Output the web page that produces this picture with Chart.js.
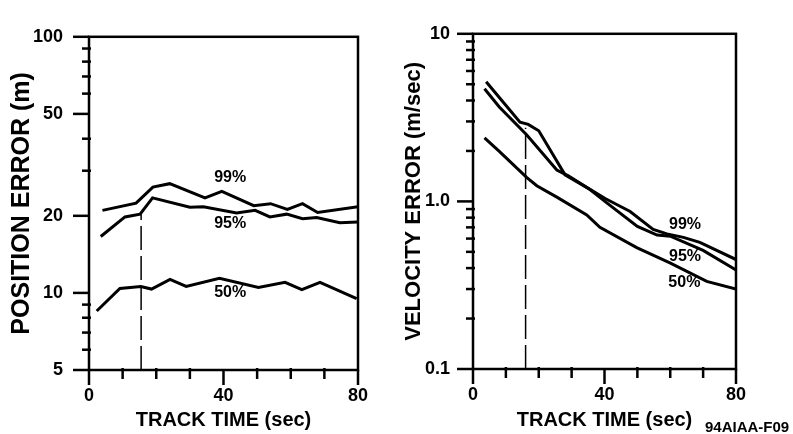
<!DOCTYPE html>
<html>
<head>
<meta charset="utf-8">
<script src="https://cdn.jsdelivr.net/npm/chart.js@4.4.1/dist/chart.umd.min.js"></script>
<style>
  html, body { margin: 0; padding: 0; background: #fff; }
  #wrap { position: relative; width: 793px; height: 434px; overflow: hidden; }
  #posChart { position: absolute; left: 0; top: 0; }
  #velChart { position: absolute; left: 396px; top: 0; }
</style>
</head>
<body>
<div id="wrap">
  <canvas id="posChart" width="396" height="434"></canvas>
  <canvas id="velChart" width="397" height="434"></canvas>
</div>
<script>
// track time ticks (sec)
var timeTicks = [0, 40, 80];
var timeMinor = [10, 20, 30, 50, 60, 70];

// position error panel (m)
var posTicks = [5, 10, 20, 50, 100];
var posMinor = [6, 7, 8, 9, 30, 40, 60, 70, 80, 90];
var posT99 = [4, 14, 19, 24, 34.5, 39.5, 49, 54, 59, 63.5, 68, 80];
var posE99 = [21.0, 22.4, 25.9, 26.7, 23.5, 24.9, 21.9, 22.3, 21.2, 22.3, 20.6, 21.7];
var posT95 = [3.5, 10.7, 15.2, 18.9, 30, 34, 43.9, 49.4, 53.8, 58.8, 63.5, 67.7, 74.6, 80];
var posE95 = [16.6, 19.8, 20.3, 23.5, 21.6, 21.7, 20.5, 21.0, 19.8, 20.3, 19.5, 19.7, 18.8, 18.9];
var posT50 = [2.3, 9.2, 15.4, 18.6, 24.1, 28.9, 38.8, 50.4, 58.3, 63.3, 68.7, 79.6];
var posE50 = [8.5, 10.4, 10.6, 10.35, 11.3, 10.6, 11.4, 10.5, 11.0, 10.3, 11.0, 9.5];
var posMarkT = [15.5, 15.5];
var posMarkE = [5, 20.3];
var posLabels = ['99%', '95%', '50%'];
var posLabelT = [42, 42, 42];
var posLabelE = [28.1, 18.6, 10.0];

// velocity error panel (m/sec)
var velTicks = [0.1, 1, 10];
var velTickText = ['0.1', '1.0', '10'];
var velMinor = [0.2, 0.3, 0.4, 0.5, 0.6, 0.7, 0.8, 0.9, 2, 3, 4, 5, 6, 7, 8, 9];
var velT99 = [4, 8, 14.3, 16.8, 20, 28, 35.6, 40.2, 47.8, 54.8, 59, 64, 69, 80];
var velE99 = [5.17, 4.17, 2.97, 2.88, 2.64, 1.44, 1.18, 1.04, 0.87, 0.68, 0.64, 0.61, 0.57, 0.45];
var velT95 = [3.5, 8, 16.3, 25.5, 29, 35, 41, 50, 56, 60, 70, 80];
var velE95 = [4.7, 3.66, 2.5, 1.54, 1.42, 1.2, 0.97, 0.71, 0.63, 0.62, 0.51, 0.39];
var velT50 = [3.5, 8, 16.3, 19.4, 25.5, 34.6, 38.6, 49.8, 59.9, 71.1, 80];
var velE50 = [2.39, 1.99, 1.39, 1.24, 1.06, 0.83, 0.70, 0.53, 0.43, 0.333, 0.30];
var velMarkT = [16, 16];
var velMarkE = [0.1, 2.75];
var velLabels = ['99%', '95%', '50%'];
var velLabelT = [64.5, 64.5, 64.3];
var velLabelE = [0.725, 0.47, 0.33];

Chart.defaults.font.family = '"Liberation Sans", Arial, sans-serif';
Chart.defaults.font.weight = 'bold';
Chart.defaults.color = '#000';

function pts(xs, ys) {
    return xs.map(function (x, i) { return { x: x, y: ys[i] }; });
}

function curve(xs, ys) {
    return { data: pts(xs, ys), borderColor: '#000', borderWidth: 3, pointRadius: 0, showLine: true, tension: 0 };
}

// frame, hand-drawn style tick marks, curve labels
var frameTicks = {
    id: 'frameTicks',
    afterDatasetsDraw: function (chart, args, o) {
        var ctx = chart.ctx, a = chart.chartArea, x = chart.scales.x, y = chart.scales.y;
        function seg(x1, y1, x2, y2) { ctx.beginPath(); ctx.moveTo(x1, y1); ctx.lineTo(x2, y2); ctx.stroke(); }
        ctx.save();
        ctx.strokeStyle = '#000';
        ctx.lineWidth = 2.5;
        ctx.strokeRect(a.left, a.top, a.right - a.left, a.bottom - a.top);
        o.yMajor.forEach(function (v) { var p = y.getPixelForValue(v); seg(a.left - 16, p, a.left, p); });
        o.yMinor.forEach(function (v) { var p = y.getPixelForValue(v); seg(a.left - 7, p, a.left + 2, p); });
        o.xMajor.forEach(function (v) { var p = x.getPixelForValue(v); seg(p, a.bottom, p, a.bottom + 15); });
        o.xMinor.forEach(function (v) { var p = x.getPixelForValue(v); seg(p, a.bottom - 2, p, a.bottom + 9); });

        ctx.fillStyle = '#000';
        ctx.font = 'bold 16px "Liberation Sans", Arial, sans-serif';
        ctx.textAlign = 'center';
        ctx.textBaseline = 'middle';
        o.labels.forEach(function (t, i) {
            ctx.fillText(t, x.getPixelForValue(o.labelT[i]), y.getPixelForValue(o.labelE[i]));
        });
        if (o.note) {
            ctx.font = 'bold 15px "Liberation Sans", Arial, sans-serif';
            ctx.textAlign = 'left';
            ctx.textBaseline = 'alphabetic';
            ctx.fillText(o.note, 309, 432);
        }
        ctx.restore();
    }
};

function makeChart(id, p) {
    return new Chart(document.getElementById(id), {
        type: 'scatter',
        data: {
            datasets: [
                curve(p.t99, p.e99),
                curve(p.t95, p.e95),
                curve(p.t50, p.e50),
                { data: pts(p.markT, p.markE), borderColor: '#000', borderWidth: 1.5, borderDash: [24, 6], pointRadius: 0, showLine: true }
            ]
        },
        options: {
            responsive: false,
            animation: false,
            layout: { padding: { top: p.top, right: p.right, bottom: 0, left: 0 } },
            plugins: {
                legend: { display: false },
                tooltip: { enabled: false },
                frameTicks: {
                    yMajor: p.yTicks, yMinor: p.yMinor, xMajor: timeTicks, xMinor: timeMinor,
                    labels: p.labels, labelT: p.labelT, labelE: p.labelE, note: p.note
                }
            },
            scales: {
                x: {
                    type: 'linear', min: 0, max: 80,
                    grid: { display: false, drawTicks: false },
                    border: { display: false },
                    afterBuildTicks: function (s) { s.ticks = timeTicks.map(function (v) { return { value: v }; }); },
                    afterFit: function (s) { s.height = p.xHeight; },
                    ticks: { font: { size: 18 }, padding: 15, maxRotation: 0 },
                    title: { display: true, text: 'TRACK TIME (sec)', font: { size: 20 }, padding: { top: 0, bottom: 2 } }
                },
                y: {
                    type: 'logarithmic', min: p.yMin, max: p.yMax,
                    grid: { display: false, drawTicks: false },
                    border: { display: false },
                    afterBuildTicks: function (s) { s.ticks = p.yTicks.map(function (v) { return { value: v }; }); },
                    afterFit: function (s) { s.width = p.yWidth; },
                    ticks: { font: { size: 18 }, padding: p.yPad, callback: p.yLabel },
                    title: { display: true, text: p.yTitle, font: { size: p.yTitleSize }, padding: { top: p.yTitlePad, bottom: 0 } }
                }
            }
        },
        plugins: [frameTicks]
    });
}

makeChart('posChart', {
    t99: posT99, e99: posE99, t95: posT95, e95: posE95, t50: posT50, e50: posE50,
    markT: posMarkT, markE: posMarkE,
    labels: posLabels, labelT: posLabelT, labelE: posLabelE,
    yTicks: posTicks, yMinor: posMinor, yMin: 5, yMax: 100,
    yLabel: function (v) { return String(v); },
    yTitle: 'POSITION ERROR (m)', yTitleSize: 25, yTitlePad: 7, yPad: 26,
    top: 20, right: 38, xHeight: 64, yWidth: 89
});

makeChart('velChart', {
    t99: velT99, e99: velE99, t95: velT95, e95: velE95, t50: velT50, e50: velE50,
    markT: velMarkT, markE: velMarkE,
    labels: velLabels, labelT: velLabelT, labelE: velLabelE,
    yTicks: velTicks, yMinor: velMinor, yMin: 0.1, yMax: 10,
    yLabel: function (v) { return velTickText[velTicks.indexOf(v)]; },
    yTitle: 'VELOCITY ERROR (m/sec)', yTitleSize: 22, yTitlePad: 5, yPad: 23,
    top: 16, right: 57, xHeight: 65, yWidth: 77,
    note: '94AIAA-F09'
});
</script>
</body>
</html>
